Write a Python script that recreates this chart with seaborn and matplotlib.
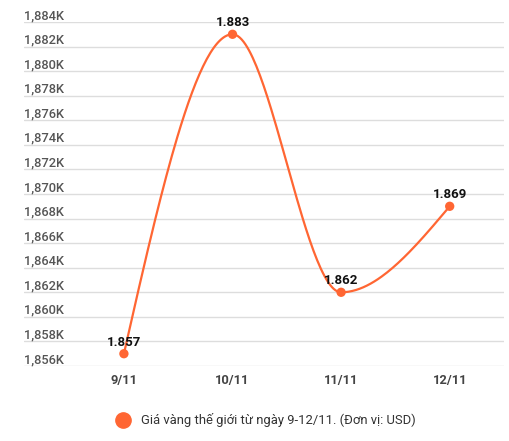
import numpy as np
import pandas as pd
import matplotlib
matplotlib.use("Agg")
import matplotlib.pyplot as plt
import seaborn as sns
from matplotlib.lines import Line2D

# --- Data ---
dates = ["9/11", "10/11", "11/11", "12/11"]
prices = [1857, 1883, 1862, 1869]
point_labels = ["1.857", "1.883", "1.862", "1.869"]
y_ticks = list(range(1856, 1886, 2))
y_tick_labels = [f"{v:,}K" for v in y_ticks]
legend_label = "Giá vàng thế giới từ ngày 9-12/11. (Đơn vị: USD)"

ORANGE = "#FF6633"


def monotone_curve(y, n=60):
    # d3 curveMonotoneX style smoothing, x spacing = 1
    y = np.asarray(y, dtype=float)
    s = np.diff(y)
    t = np.zeros_like(y)
    for i in range(1, len(y) - 1):
        if s[i - 1] * s[i] > 0:
            p = (s[i - 1] + s[i]) / 2
            t[i] = (np.sign(s[i - 1]) + np.sign(s[i])) * min(abs(s[i - 1]), abs(s[i]), 0.5 * abs(p))
    t[0] = (3 * s[0] - t[1]) / 2
    t[-1] = (3 * s[-1] - t[-2]) / 2
    xs, ys = [], []
    for i in range(len(y) - 1):
        u = np.linspace(0, 1, n)
        h00 = 2 * u**3 - 3 * u**2 + 1
        h10 = u**3 - 2 * u**2 + u
        h01 = -2 * u**3 + 3 * u**2
        h11 = u**3 - u**2
        xs.extend(i + u)
        ys.extend(h00 * y[i] + h10 * t[i] + h01 * y[i + 1] + h11 * t[i + 1])
    return pd.DataFrame({"x": xs, "y": ys})


sns.set_theme(style="white")
plt.rcParams["font.family"] = ["Roboto", "DejaVu Sans"]

fig = plt.figure(figsize=(5.09, 4.41), dpi=100)
ax = fig.add_axes([24 / 509, 75 / 441, 480 / 509, 344 / 441])

df_pts = pd.DataFrame({"x": range(len(dates)), "y": prices})
curve = monotone_curve(prices)

sns.lineplot(data=curve, x="x", y="y", color=ORANGE, linewidth=1.6, ax=ax, zorder=3)
sns.scatterplot(data=df_pts, x="x", y="y", color=ORANGE, s=45, edgecolor="none", ax=ax, zorder=4)

for xi, yi, lab in zip(df_pts["x"], df_pts["y"], point_labels):
    ax.annotate(lab, (xi, yi), xytext=(0, 3.5), textcoords="offset points",
                ha="center", va="bottom", fontsize=9.5, fontweight="bold", color="#111111", zorder=5)

ax.set_xlim(-0.92, 3.5)
ax.set_ylim(1856, 1884)
ax.set_xticks(range(len(dates)))
ax.set_xticklabels(dates)
ax.set_yticks(y_ticks)
ax.set_yticklabels(y_tick_labels)
ax.set_xlabel("")
ax.set_ylabel("")

ax.grid(axis="y", color="#dddddd", linewidth=1)
ax.grid(axis="x", visible=False)
for sp in ax.spines.values():
    sp.set_visible(False)

ax.tick_params(axis="y", length=0, pad=0, labelsize=9.3, labelcolor="#555555")
for lbl in ax.get_yticklabels():
    lbl.set_ha("left")
    lbl.set_va("bottom")
    lbl.set_fontweight("medium")
ax.tick_params(axis="x", length=0, pad=6, labelsize=9.3, labelcolor="#444444")
for lbl in ax.get_xticklabels():
    lbl.set_fontweight("bold")

handle = Line2D([], [], marker="o", linestyle="none", color=ORANGE, markersize=11)
fig.legend([handle], [legend_label], loc="center", bbox_to_anchor=(0.517, 0.047),
           frameon=False, fontsize=9.4, labelcolor="#333333", handletextpad=0.4)

fig.savefig("out.png", dpi=100)
